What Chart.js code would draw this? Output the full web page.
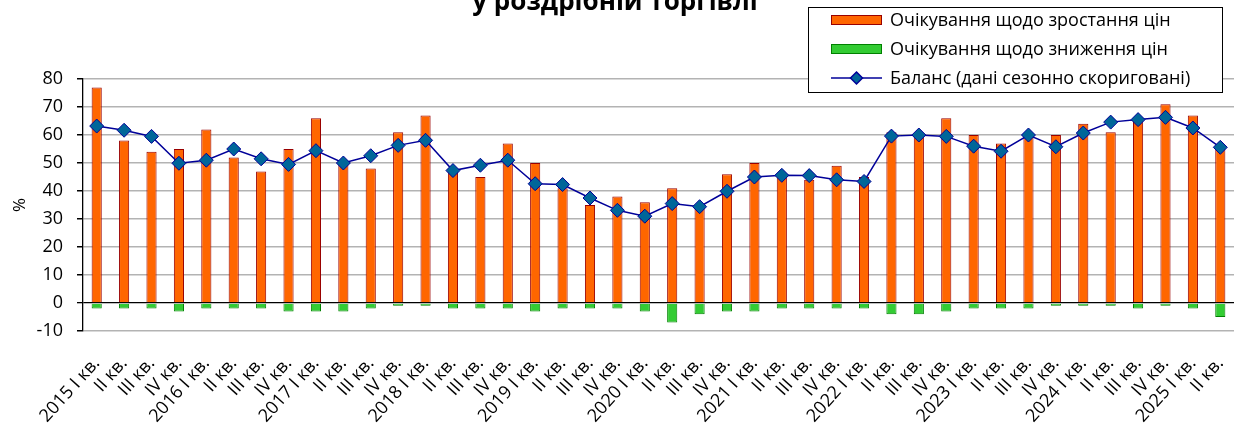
<html><head><meta charset="UTF-8">
<title>Очікування щодо зміни цін у роздрібній торгівлі</title>
<style>
  html, body { margin: 0; padding: 0; background: #fff; overflow: hidden; }
  #wrap { width: 1234px; height: 427px; position: relative; }
</style>
<script src="https://cdn.jsdelivr.net/npm/chart.js"></script>
</head>
<body>
<div id="wrap"><canvas id="chart"></canvas></div>
<script>
// quarters, 2015 I .. 2025 II
const categories = [
  '2015 I кв.', 'II кв.', 'III кв.', 'IV кв.',
  '2016 I кв.', 'II кв.', 'III кв.', 'IV кв.',
  '2017 I кв.', 'II кв.', 'III кв.', 'IV кв.',
  '2018 I кв.', 'II кв.', 'III кв.', 'IV кв.',
  '2019 I кв.', 'II кв.', 'III кв.', 'IV кв.',
  '2020 I кв.', 'II кв.', 'III кв.', 'IV кв.',
  '2021 I кв.', 'II кв.', 'III кв.', 'IV кв.',
  '2022 I кв.', 'II кв.', 'III кв.', 'IV кв.',
  '2023 I кв.', 'II кв.', 'III кв.', 'IV кв.',
  '2024 I кв.', 'II кв.', 'III кв.', 'IV кв.',
  '2025 I кв.', 'II кв.'
];
const growth = [77, 58, 54, 55, 62, 52, 47, 55, 66, 50, 48, 61, 67, 47, 45, 57, 50, 41, 35, 38, 36,
                41, 34, 46, 50, 46, 44, 49, 45, 61, 60, 66, 60, 57, 60, 60, 64, 61, 65, 71, 67, 55];
const decline = [-2, -2, -2, -3, -2, -2, -2, -3, -3, -3, -2, -1, -1, -2, -2, -2, -3, -2, -2, -2, -3,
                 -7, -4, -3, -3, -2, -2, -2, -2, -4, -4, -3, -2, -2, -2, -1, -1, -1, -2, -1, -2, -5];
const balance = [63.2, 61.7, 59.5, 49.9, 51, 55, 51.5, 49.5, 54.4, 50, 52.6, 56.3, 58.1, 47.3, 49.2,
                 51, 42.6, 42.3, 37.5, 33.1, 31, 35.5, 34.4, 39.9, 45, 45.6, 45.5, 44, 43.4, 59.6,
                 60, 59.5, 56, 54.2, 60, 55.8, 60.7, 64.6, 65.5, 66.3, 62.5, 55.6];
const seriesNames = ['Очікування щодо зростання цін', 'Очікування щодо зниження цін', 'Баланс (дані сезонно скориговані)'];
const titleText = 'у роздрібній торгівлі';
const yTicks = [-10, 0, 10, 20, 30, 40, 50, 60, 70, 80];

const FONT = "'Open Sans', sans-serif";

// title (only its second line is in view) + boxed legend drawn over the plot
const overlay = {
  id: 'overlay',
  afterDraw(chart) {
    const ctx = chart.ctx;
    ctx.save();
    ctx.fillStyle = '#000';
    ctx.font = 'bold 26px ' + FONT;
    ctx.textAlign = 'center';
    ctx.textBaseline = 'alphabetic';
    ctx.fillText(titleText, 615, 10);

    // legend box
    const bx = 808, by = 7, bw = 414, bh = 85;
    ctx.fillStyle = '#fff';
    ctx.fillRect(bx, by, bw, bh);
    ctx.strokeStyle = '#000';
    ctx.lineWidth = 1;
    ctx.strokeRect(bx + 0.5, by + 0.5, bw, bh);
    ctx.font = '18px ' + FONT;
    ctx.textAlign = 'left';
    ctx.textBaseline = 'middle';
    chart.data.datasets.forEach((ds, i) => {
      const cy = by + 13 + i * 29;
      if (ds.type === 'line') {
        ctx.strokeStyle = ds.borderColor;
        ctx.lineWidth = 1.5;
        ctx.beginPath();
        ctx.moveTo(831, cy); ctx.lineTo(882, cy);
        ctx.stroke();
        ctx.fillStyle = ds.pointBackgroundColor;
        ctx.beginPath();
        ctx.moveTo(856.5, cy - 6); ctx.lineTo(862.5, cy); ctx.lineTo(856.5, cy + 6); ctx.lineTo(850.5, cy);
        ctx.closePath();
        ctx.fill(); ctx.stroke();
      } else {
        ctx.fillStyle = ds.backgroundColor;
        ctx.fillRect(831, cy - 5, 51, 10);
        ctx.strokeStyle = ds.borderColor;
        ctx.lineWidth = 1;
        ctx.strokeRect(831.5, cy - 4.5, 50, 9);
      }
      ctx.fillStyle = '#000';
      ctx.fillText(ds.label, 890, cy + 1);
    });
    ctx.restore();
  }
};

new Chart(document.getElementById('chart'), {
  type: 'bar',
  data: {
    labels: categories,
    datasets: [
      {
        label: seriesNames[0], data: growth, order: 1,
        backgroundColor: '#FF6600', borderColor: '#990000', borderWidth: 1,
        barPercentage: 0.37, categoryPercentage: 1
      },
      {
        label: seriesNames[1], data: decline, order: 2,
        backgroundColor: '#33CC33', borderColor: '#008000', borderWidth: 1,
        barPercentage: 0.37, categoryPercentage: 1
      },
      {
        type: 'line', label: seriesNames[2], data: balance, order: 0,
        borderColor: '#000099', borderWidth: 1.5, backgroundColor: '#006699',
        pointStyle: 'rectRot', pointRadius: 7, pointHoverRadius: 7,
        pointBackgroundColor: '#006699', pointBorderColor: '#000099', pointBorderWidth: 1
      }
    ]
  },
  options: {
    responsive: true,
    maintainAspectRatio: false,
    animation: false,
    layout: { autoPadding: false, padding: { top: 79, right: 0, left: 0, bottom: 0 } },
    plugins: { legend: { display: false }, tooltip: { enabled: false } },
    scales: {
      x: {
        stacked: true,
        grid: { display: false },
        border: { display: false },
        ticks: {
          color: '#000', font: { family: FONT, size: 18 },
          minRotation: 48, maxRotation: 48, autoSkip: false, padding: 14
        },
        afterFit(scale) {
          scale.height = 96;
          scale.paddingLeft = 0;
          scale.paddingRight = 0;
        }
      },
      y: {
        min: -10, max: 80,
        afterBuildTicks(scale) { scale.ticks = yTicks.map(v => ({ value: v })); },
        grid: {
          color: ctx => ctx.tick && ctx.tick.value === 0 ? '#000' : '#b3b3b3',
          lineWidth: ctx => ctx.tick && ctx.tick.value === 0 ? 1.3 : 1.5,
          tickColor: '#000', tickLength: 6
        },
        border: { display: true, color: '#000', width: 1.3 },
        ticks: { color: '#000', font: { family: FONT, size: 18 }, padding: 14 },
        title: { display: true, text: '%', color: '#000', font: { family: FONT, size: 17 }, padding: 10 },
        afterFit(scale) { scale.width = 83; }
      }
    }
  },
  plugins: [overlay]
});
</script>
</body></html>
